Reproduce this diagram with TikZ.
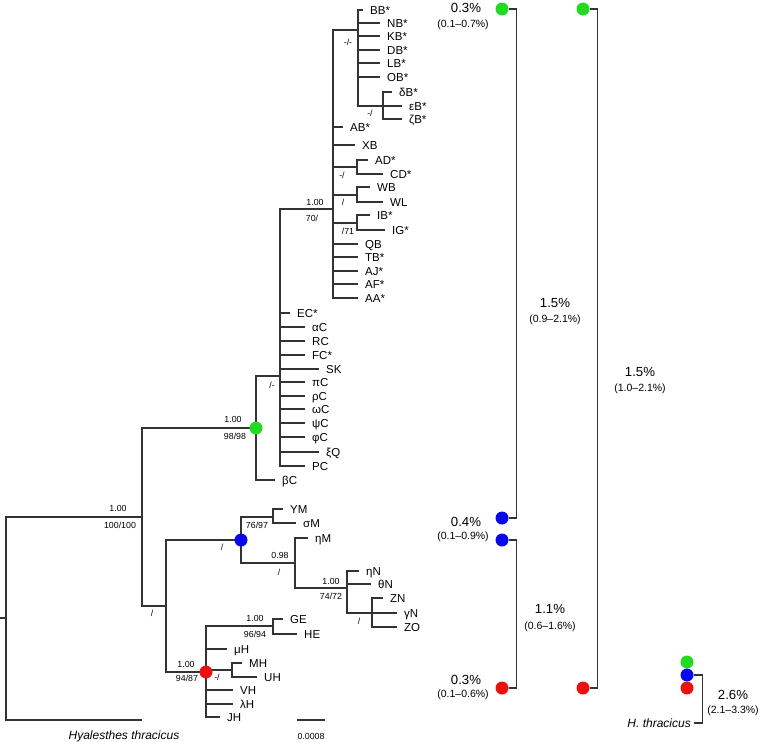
\documentclass[tikz,border=0pt]{standalone}
\usepackage{fontspec}
\setmainfont{Liberation Sans}
\usepackage{tikz}
\usetikzlibrary{positioning}
\definecolor{ngreen}{RGB}{34,218,34}
\definecolor{nblue}{RGB}{8,8,238}
\definecolor{nred}{RGB}{236,16,16}
\tikzset{
  br/.style={line width=1.1pt, draw=black!80},
  tip/.style={anchor=west, inner xsep=7pt, inner ysep=0pt, text height=8.2pt, text depth=0pt, font=\fontsize{11.5}{12}\selectfont},
  supp/.style={inner sep=0pt, font=\fontsize{8.8}{9}\selectfont},
  dot/.style={circle, inner sep=0pt, minimum size=13pt},
  pct/.style={inner sep=0pt, font=\fontsize{13.2}{14}\selectfont},
  ci/.style={inner sep=0pt, font=\fontsize{10.5}{11}\selectfont},
}
\begin{document}
\begin{tikzpicture}[x=1pt,y=-1pt]
\useasboundingbox (0,0) rectangle (761,742);
% internal nodes of the tree
\coordinate (rtick) at (0,618);
\coordinate (root) at (6,618);
\coordinate (n1) at (142,517);
\coordinate (gn) at (256,428);
\coordinate (cC) at (280,376);
\coordinate (nB) at (333,209);
\coordinate (nBB) at (358,30);
\coordinate (nDE) at (383,106);
\coordinate (nAD) at (357,167);
\coordinate (nWB) at (357,195);
\coordinate (nIB) at (357,223);
\coordinate (n2) at (166,606);
\coordinate (bn) at (241,540);
\coordinate (nYM) at (273,517);
\coordinate (n3) at (295,563);
\coordinate (n4) at (347,588);
\coordinate (n5) at (372,613);
\coordinate (rn) at (206,672);
\coordinate (nGE) at (273,626);
\coordinate (nMH) at (232,670);
\coordinate (tHy) at (142,720);
\draw[br] (rtick) -- (root);
\foreach \a/\b in {root/n1,root/tHy,n1/gn,n1/n2,gn/cC,cC/nB,nB/nBB,nBB/nDE,nB/nAD,nB/nWB,nB/nIB,
  n2/bn,n2/rn,bn/nYM,bn/n3,n3/n4,n4/n5,rn/nGE,rn/nMH}
  \draw[br] (\a) |- (\b);
% tips
\foreach \nm/\px/\py/\lb/\up in {
  tBB/363/10/BB*/nBB, tNB/380/23/NB*/nBB, tKB/380/36/KB*/nBB, tDB/380/50/DB*/nBB,
  tLB/380/63/LB*/nBB, tOB/380/77/OB*/nBB,
  tdB/392/92/δB*/nDE, teB/402/106/εB*/nDE, tzB/402/119/ζB*/nDE,
  tAB/343/127/AB*/nB, tXB/355/145/XB/nB,
  tAD/368/160/AD*/nAD, tCD/383/174/CD*/nAD,
  tWB/370/187/WB/nWB, tWL/383/202/WL/nWB,
  tIB/370/215/IB*/nIB, tIG/385/230/IG*/nIB,
  tQB/358/244/QB/nB, tTB/358/257/TB*/nB, tAJ/358/271/AJ*/nB, tAF/358/284/AF*/nB, tAA/358/298/AA*/nB,
  tEC/290/313/EC*/cC, taC/305/327/αC/cC, tRC/305/341/RC/cC, tFC/305/355/FC*/cC,
  tSK/319/369/SK/cC, tpC/305/382/πC/cC, trC/305/396/ρC/cC, toC/305/409/ωC/cC,
  tyC/305/423/ψC/cC, tfC/305/437/φC/cC, txQ/319/452/ξQ/cC, tPC/305/466/PC/cC,
  tbC/275/480/βC/gn,
  tYM/283/509/YM/nYM, tsM/296/523/σM/nYM,
  thM/308/538/ηM/n3,
  thN/359/571/ηN/n4, ttN/371/584/θN/n4,
  tZN/383/598/ZN/n5, tgN/397/613/γN/n5, tZO/397/627/ZO/n5,
  tGE/283/619/GE/nGE, tHE/297/634/HE/nGE,
  tmH/227/649/μH/rn, tMH/242/663/MH/nMH, tUH/257/677/UH/nMH,
  tVH/233/690/VH/rn, tlH/233/704/λH/rn, tJH/220/717/JH/rn}
{
  \node[tip] (\nm) at (\px,\py) {\lb};
  \draw[br] (\up) |- (\nm.west);
}
\node[font=\fontsize{12}{12}\selectfont\itshape] (lHy) at (124,736) {Hyalesthes thracicus};
% support values
\foreach \nm/\px/\py/\lb in {
  s1a/118/508/1.00, s1b/120/525/100\slash100, s2a/233/419/1.00, s2b/235/436/98\slash98,
  s3a/315/202/1.00, s3b/312/218/70\slash, s4/272/385/\slash-, s5/348/42/-\slash-,
  s6/370/113/-\slash, s7/342/175/-\slash, s8/343/202/\slash, s9/348/231/\slash71,
  s10/152/613/\slash, s11/222/547/\slash, s12/257/525/76\slash97,
  s13a/280/555/0.98, s13b/279/572/\slash, s14a/331/581/1.00, s14b/331/596/74\slash72,
  s15/359/621/\slash, s16a/186/664/1.00, s16b/187/678/94\slash87,
  s17a/255/618/1.00, s17b/255/634/96\slash94, s18/217/677/-\slash}
  \node[supp] (\nm) at (\px,\py) {\lb};
% coloured nodes on the tree
\node[dot, fill=ngreen] (cg) at (gn) {};
\node[dot, fill=nblue] (cb) at (bn) {};
\node[dot, fill=nred] (cr) at (rn) {};
% scale bar
\coordinate (sbl) at (297,720);
\coordinate (sbr) at (325,720);
\draw[br] (sbl) -- (sbr);
\node[supp] (sbt) at (311,736) {0.0008};
% divergence brackets
\node[dot, fill=ngreen] (g1) at (502,9) {};
\node[dot, fill=ngreen] (g2) at (583,9) {};
\node[dot, fill=nblue] (b1) at (502,518) {};
\node[dot, fill=nblue] (b2) at (502,540) {};
\node[dot, fill=nred] (r1) at (502,688) {};
\node[dot, fill=nred] (r2) at (583,688) {};
\node[dot, fill=ngreen] (g3) at (687,662) {};
\node[dot, fill=nblue] (b3) at (687,675) {};
\node[dot, fill=nred] (r3) at (687,688) {};
\draw[br] (g1.east) -- ++(8,0) |- (b1.east);
\draw[br] (b2.east) -- ++(8,0) |- (r1.east);
\draw[br] (g2.east) -- ++(8,0) |- (r2.east);
\node[anchor=east, inner xsep=3pt, inner ysep=0pt, font=\fontsize{12}{12}\selectfont\itshape] (hth) at (694,723) {H. thracicus};
\draw[br] (b3.east) -- ++(8.5,0) |- (hth.east);
\node[pct] (p1) at (466,8) {0.3\%};
\node[ci] (c1) at (463,25) {(0.1\textendash0.7\%)};
\node[pct] (p2) at (466,522) {0.4\%};
\node[ci] (c2) at (463,537) {(0.1\textendash0.9\%)};
\node[pct] (p3) at (466,680) {0.3\%};
\node[ci] (c3) at (463,695) {(0.1\textendash0.6\%)};
\node[pct] (p4) at (555,303) {1.5\%};
\node[ci] (c4) at (555,320) {(0.9\textendash2.1\%)};
\node[pct] (p5) at (550,609) {1.1\%};
\node[ci] (c5) at (550,627) {(0.6\textendash1.6\%)};
\node[pct] (p6) at (640,372) {1.5\%};
\node[ci] (c6) at (640,389) {(1.0\textendash2.1\%)};
\node[pct] (p7) at (733,695) {2.6\%};
\node[ci] (c7) at (733,711) {(2.1\textendash3.3\%)};
\end{tikzpicture}
\end{document}
